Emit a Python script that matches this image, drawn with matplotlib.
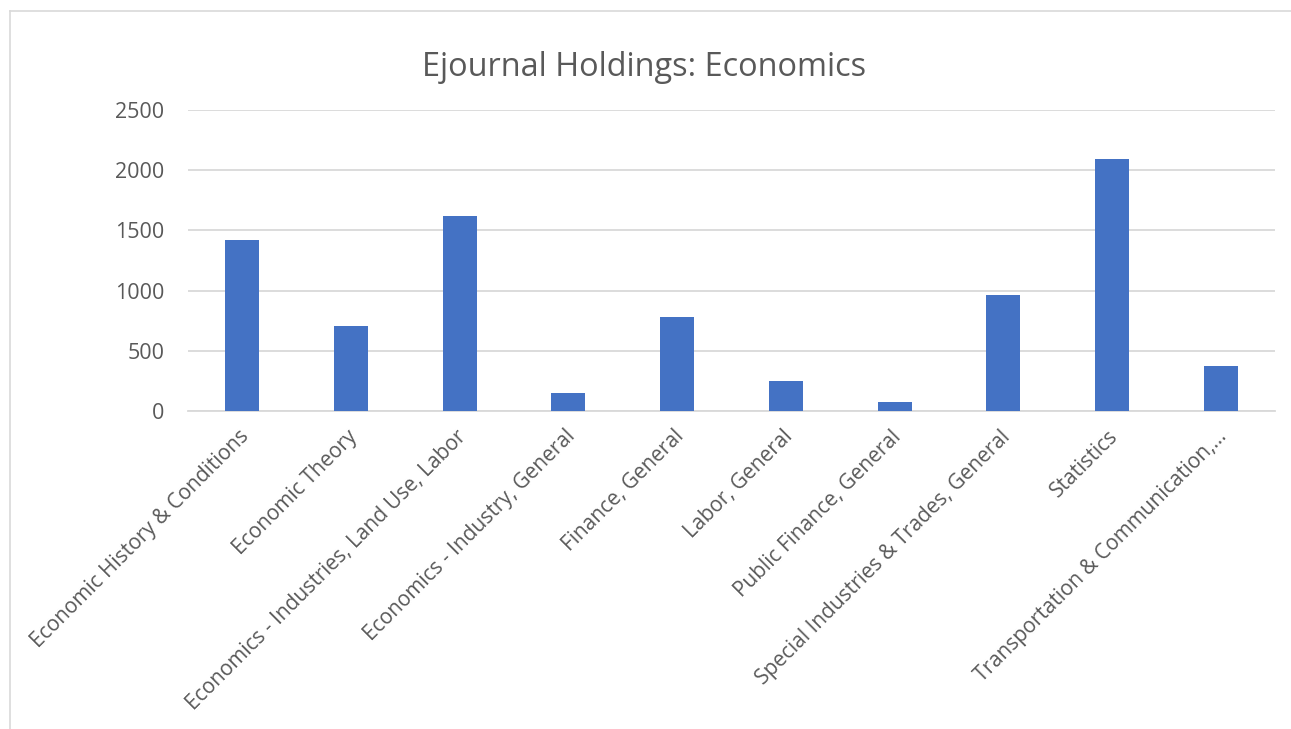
import matplotlib
matplotlib.use("Agg")
import matplotlib.pyplot as plt
from matplotlib.lines import Line2D
from matplotlib.transforms import ScaledTranslation

categories = [
    "Economic History & Conditions",
    "Economic Theory",
    "Economics - Industries, Land Use, Labor",
    "Economics - Industry, General",
    "Finance, General",
    "Labor, General",
    "Public Finance, General",
    "Special Industries & Trades, General",
    "Statistics",
    "Transportation & Communication,...",
]
values = [1420, 706, 1620, 148, 778, 249, 72, 961, 2090, 371]
yticks = [0, 500, 1000, 1500, 2000, 2500]
title = "Ejournal Holdings: Economics"

plt.rcParams['font.family'] = ['Open Sans', 'DejaVu Sans']
text_color = "#595959"
grid_color = "#d9d9d9"

fig = plt.figure(figsize=(12.91, 7.29), dpi=100)
ax = fig.add_axes([188/1291, 1 - 411/729, (1275-188)/1291, (411-110)/729])

x = list(range(len(categories)))
ax.bar(x, values, width=0.313, color="#4472c4", zorder=3)
ax.set_xlim(-0.5, len(categories) - 0.5)
ax.set_ylim(0, 2500)
ax.set_yticks(yticks)
ax.set_yticklabels([str(v) for v in yticks], fontsize=15.5, color=text_color)
ax.set_xticks(x)
ax.set_xticklabels(categories, rotation=45, ha='right', va='top',
                   rotation_mode='anchor', fontsize=15, color=text_color)
ax.tick_params(axis='both', length=0)
ax.tick_params(axis='y', pad=17)
ax.tick_params(axis='x', pad=8)
offset = ScaledTranslation(-4/100, -4/100, fig.dpi_scale_trans)
for lbl in ax.get_xticklabels():
    lbl.set_transform(lbl.get_transform() + offset)
for s in ['top', 'right', 'left']:
    ax.spines[s].set_visible(False)
ax.spines['bottom'].set_color(grid_color)
ax.spines['bottom'].set_linewidth(1.3)
ax.grid(axis='y', color=grid_color, linewidth=1.3, zorder=0)
ax.set_axisbelow(True)

fig.text(644/1291, 1 - 68/729, title, ha='center', va='center',
         fontsize=23.4, color=text_color)

# chart border
fig.add_artist(Line2D([10/1291, 10/1291], [0, 1 - 11/729], transform=fig.transFigure,
                      color=grid_color, linewidth=1.2))
fig.add_artist(Line2D([10/1291, 1], [1 - 11/729, 1 - 11/729], transform=fig.transFigure,
                      color=grid_color, linewidth=1.2))

fig.savefig("out.png", dpi=100)
